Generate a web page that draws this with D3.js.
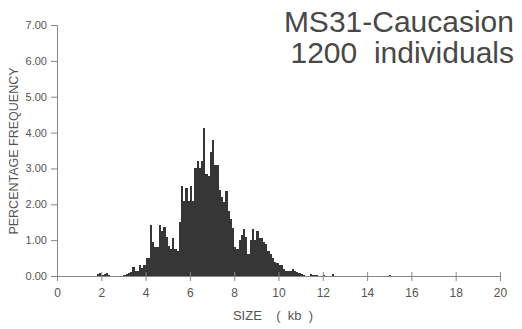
<!DOCTYPE html>
<html>
<head>
<meta charset="utf-8">
<script src="https://cdn.jsdelivr.net/npm/d3@7"></script>
<style>
  body { margin: 0; background: #fff; }
  svg text { font-family: "Liberation Sans", Arial, sans-serif; }
</style>
</head>
<body>
<svg id="chart" width="522" height="329"></svg>
<script>
// bin start (kb), 0.1 kb wide bins
var binStart = [
  1.8, 1.9, 2.0, 2.1, 2.2, 2.3,
  3.0, 3.1, 3.2, 3.3, 3.4, 3.5, 3.6, 3.7, 3.8, 3.9,
  4.0, 4.1, 4.2, 4.3, 4.4, 4.5, 4.6, 4.7, 4.8, 4.9,
  5.0, 5.1, 5.2, 5.3, 5.4, 5.5, 5.6, 5.7, 5.8, 5.9,
  6.0, 6.1, 6.2, 6.3, 6.4, 6.5, 6.6, 6.7, 6.8, 6.9,
  7.0, 7.1, 7.2, 7.3, 7.4, 7.5, 7.6, 7.7, 7.8, 7.9,
  8.0, 8.1, 8.2, 8.3, 8.4, 8.5, 8.6, 8.7, 8.8, 8.9,
  9.0, 9.1, 9.2, 9.3, 9.4, 9.5, 9.6, 9.7, 9.8, 9.9,
  10.0, 10.1, 10.2, 10.3, 10.4, 10.5, 10.6, 10.7, 10.8, 10.9,
  11.0, 11.1, 11.4, 11.5, 11.6, 11.7, 12.0, 12.4, 15.0
];
var percent = [
  0.05, 0.09, 0.04, 0.05, 0.07, 0.04,
  0.03, 0.05, 0.08, 0.10, 0.25, 0.15, 0.15, 0.30, 0.22, 0.30,
  0.50, 0.50, 1.42, 0.95, 0.80, 0.80, 1.42, 1.25, 1.38, 1.10,
  0.85, 0.75, 1.05, 0.75, 0.70, 1.50, 2.50, 2.10, 2.45, 2.10,
  2.50, 2.10, 3.00, 3.20, 3.00, 3.20, 4.12, 2.85, 2.80, 3.45,
  3.80, 3.10, 3.10, 2.40, 2.20, 2.05, 2.38, 1.80, 1.60, 1.35,
  0.80, 0.75, 1.00, 1.15, 1.30, 1.10, 0.60, 1.00, 1.30, 1.00,
  1.25, 1.05, 1.05, 0.95, 0.90, 0.70, 0.60, 0.50, 0.40, 0.35,
  0.30, 0.30, 0.20, 0.15, 0.15, 0.15, 0.20, 0.15, 0.10, 0.08,
  0.05, 0.03, 0.05, 0.03, 0.03, 0.03, 0.03, 0.06, 0.03
];
var binWidth = 0.1;
var xTicks = [0, 2, 4, 6, 8, 10, 12, 14, 16, 18, 20];
var yTicks = [0, 1, 2, 3, 4, 5, 6, 7];
var titleLines = ["MS31-Caucasion", "1200  individuals"];

var svg = d3.select("#chart");

var x = d3.scaleLinear().domain([0, 20]).range([57, 500]);
var y = d3.scaleLinear().domain([0, 7]).range([276, 25]);

// bars, snapped to pixels so neighbours touch
svg.append("g")
  .attr("shape-rendering", "crispEdges")
  .selectAll("rect")
  .data(binStart)
  .join("rect")
    .attr("x", function(d) { return Math.round(x(d)); })
    .attr("width", function(d) { return Math.round(x(d + binWidth)) - Math.round(x(d)); })
    .attr("y", function(d, i) { return Math.round(y(percent[i])); })
    .attr("height", function(d, i) { return Math.round(y(0)) - Math.round(y(percent[i])); })
    .attr("fill", "#363636");

// x axis
var xAxis = svg.append("g")
  .attr("transform", "translate(0," + y(0) + ")")
  .call(d3.axisBottom(x).tickValues(xTicks).tickFormat(d3.format("d")).tickSizeOuter(0).tickSize(5).tickPadding(7));
xAxis.selectAll(".tick line").attr("y1", -4).attr("stroke", "#888");
xAxis.select(".domain").attr("stroke", "#888");
xAxis.selectAll("text").attr("fill", "#555").attr("font-size", 12);

// y axis
var yAxis = svg.append("g")
  .attr("transform", "translate(" + x(0) + ",0)")
  .call(d3.axisLeft(y).tickValues(yTicks).tickFormat(d3.format(".2f")).tickSizeOuter(0).tickSize(6).tickPadding(4));
yAxis.selectAll(".tick line").attr("stroke", "#888");
yAxis.select(".domain").attr("stroke", "#888");
yAxis.selectAll("text").attr("fill", "#555").attr("font-size", 11);

// title
svg.append("g").selectAll("text")
  .data(titleLines)
  .join("text")
    .attr("x", 514)
    .attr("y", function(d, i) { return 32 + i * 31; })
    .attr("text-anchor", "end")
    .attr("font-size", 30)
    .attr("fill", "#484848")
    .style("white-space", "pre")
    .text(function(d) { return d; });

// axis titles
svg.append("text")
  .attr("x", 273)
  .attr("y", 320)
  .attr("text-anchor", "middle")
  .attr("font-size", 13)
  .attr("fill", "#555")
  .style("white-space", "pre")
  .text("SIZE    (  kb  )");

svg.append("text")
  .attr("transform", "translate(18,151) rotate(-90)")
  .attr("text-anchor", "middle")
  .attr("font-size", 12.5)
  .attr("fill", "#555")
  .text("PERCENTAGE FREQUENCY");
</script>
</body>
</html>
